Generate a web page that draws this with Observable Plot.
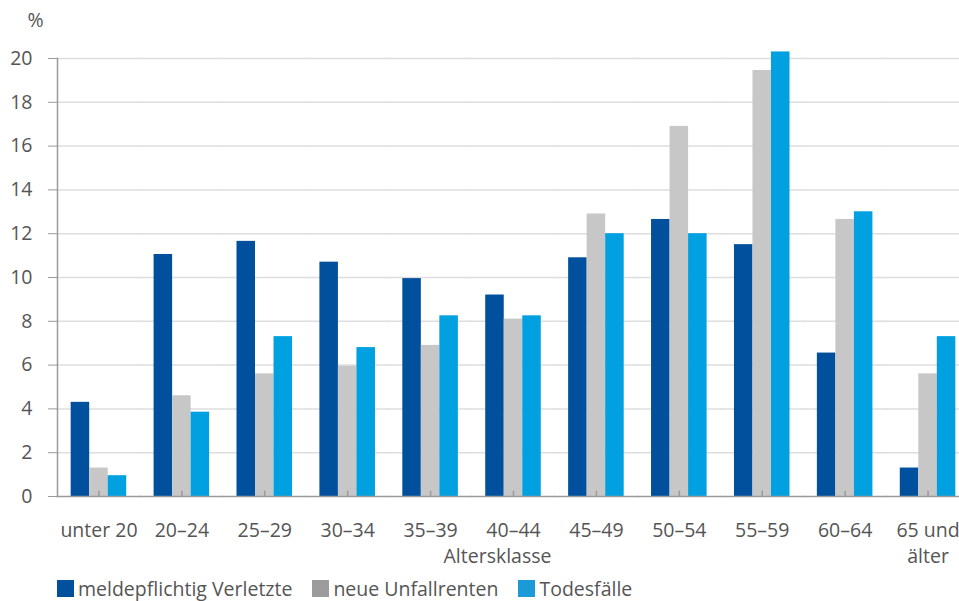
<!DOCTYPE html>
<html>
<head>
<meta charset="utf-8">
<script src="https://cdn.jsdelivr.net/npm/d3@7"></script>
<script src="https://cdn.jsdelivr.net/npm/@observablehq/plot@0.6"></script>
<style>
  html, body { margin: 0; padding: 0; background: #fff; overflow: hidden; }
  #chart { width: 959px; overflow: hidden; }
  #chart svg { display: block; max-width: none !important; }
  #legend { margin-left: 57px; margin-top: 1px; }
  .lg-swatches { font-family: "Open Sans", sans-serif !important; font-size: 19.5px !important; color: #555 !important; margin: 0 !important; min-height: 0 !important; }
  .lg-swatch { margin-right: 20px !important; }
  .lg-swatch > svg { margin-right: 4px !important; }
</style>
</head>
<body>
<div id="chart"></div>
<div id="legend"></div>
<script>
const categories = ["unter 20", "20–24", "25–29", "30–34", "35–39", "40–44", "45–49", "50–54", "55–59", "60–64", "65 und\nälter"];
const series = ["meldepflichtig Verletzte", "neue Unfallrenten", "Todesfälle"];
const verletzte    = [4.3, 11.05, 11.65, 10.7, 9.95, 9.2, 10.9, 12.65, 11.5, 6.55, 1.3];
const unfallrenten = [1.3, 4.6, 5.6, 5.95, 6.9, 8.1, 12.9, 16.9, 19.45, 12.65, 5.6];
const todesfaelle  = [0.95, 3.85, 7.3, 6.8, 8.25, 8.25, 12.0, 12.0, 20.3, 13.0, 7.3];
const yTicks = [0, 2, 4, 6, 8, 10, 12, 14, 16, 18, 20];
const gridTicks = [2, 4, 6, 8, 10, 12, 14, 16, 18, 20];
const barColors = ["#00509e", "#c6c7c6", "#00a0e1"];
const legendColors = ["#00509e", "#9c9c9c", "#1a9bd7"];
const yLabel = "%";
const xLabel = "Altersklasse";

const valuesBySeries = [verletzte, unfallrenten, todesfaelle];
const data = [];
series.forEach((s, si) => {
  categories.forEach((c, ci) => data.push({cat: c, series: s, value: valuesBySeries[si][ci]}));
});

const font = "'Open Sans', sans-serif";
const fs = 19.5;
const textColor = "#555";
const axisColor = "#9a9a9a";

const W = 969, ML = 57, MR = 0;
const padIn = 0.33, padOut = 0.165;
// distance from the plot's left edge to the first facet (outer band padding)
const step = (W - ML - MR) / (categories.length - padIn + 2 * padOut);
const outer = padOut * step;
const gap = padIn * step;

const chart = Plot.plot({
  width: W,
  height: 574,
  marginTop: 58,
  marginBottom: 78,
  marginLeft: ML,
  marginRight: MR,
  style: {fontFamily: font, fontSize: fs + "px", color: textColor, background: "#fff"},
  fx: {domain: categories, paddingInner: padIn, paddingOuter: padOut, label: null, round: false},
  x: {domain: series, padding: 0, axis: null, round: false},
  y: {domain: [0, 20], axis: null},
  color: {domain: series, range: barColors},
  marks: [
    Plot.ruleY(gridTicks, {stroke: "#dedede", strokeWidth: 1.5, insetLeft: -gap / 2 - 0.5, insetRight: -gap / 2 - 0.5}),
    Plot.frame({anchor: "left", facetAnchor: "left", dx: -outer, stroke: axisColor, strokeWidth: 1.5}),
    Plot.axisY({
      ticks: yTicks, tickSize: 9, tickPadding: 16, dx: -outer,
      stroke: axisColor, fill: textColor, fontSize: fs, label: null
    }),
    Plot.text([yLabel], {
      fx: () => categories[0], frameAnchor: "top-left", dx: -outer - 22, dy: -38,
      textAnchor: "middle", lineAnchor: "middle", fill: textColor, fontSize: fs
    }),
    Plot.barY(data, {fx: "cat", x: "series", y: "value", fill: "series"}),
    Plot.ruleY([0], {stroke: axisColor, strokeWidth: 1.5, insetLeft: -gap / 2 - 0.5, insetRight: -gap / 2 - 0.5}),
    Plot.ruleX(categories, {fx: (d) => d, x: () => series[1], y1: 0, y2: 0.24, stroke: axisColor, strokeWidth: 1.5}),
    Plot.axisFx({
      anchor: "bottom", tickSize: 0, tickPadding: 22, fontSize: fs, fill: textColor,
      lineHeight: 1.33, label: null
    }),
    Plot.text([xLabel], {
      fx: () => categories[5], frameAnchor: "bottom", dx: -16, dy: 60,
      textAnchor: "middle", lineAnchor: "middle", fill: textColor, fontSize: fs
    })
  ]
});
document.getElementById("chart").appendChild(chart);

const legend = Plot.legend({
  color: {domain: series, range: legendColors},
  legend: "swatches",
  swatchSize: 17,
  className: "lg"
});
document.getElementById("legend").appendChild(legend);
</script>
</body>
</html>
